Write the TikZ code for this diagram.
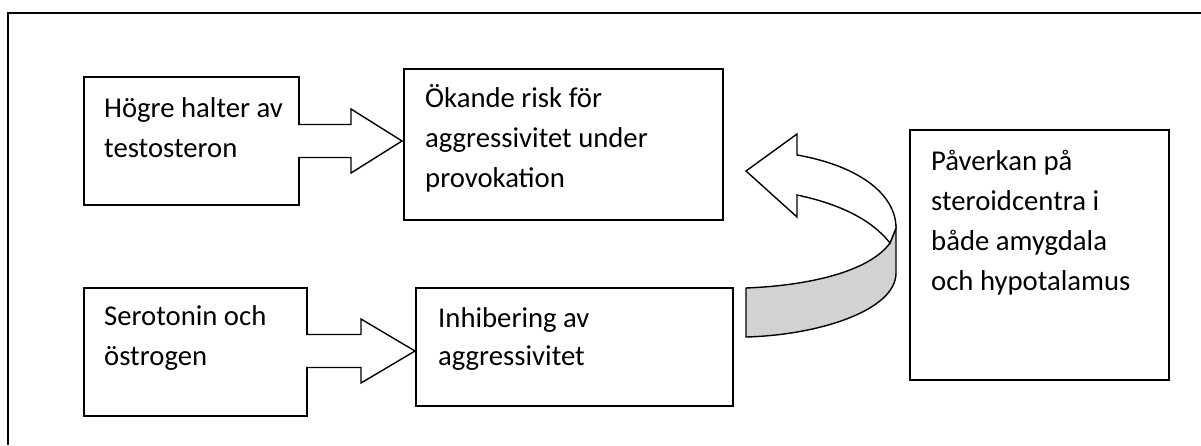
\documentclass[tikz,border=0pt]{standalone}
\usepackage{fontspec}
\setmainfont{Carlito}
\definecolor{band}{RGB}{210,210,210}
\newcommand\blockarr[4]{%
  \fill[white] (#1-3,#4-16.5) -- (#2,#4-16.5) -- (#2,#4-32) -- (#3,#4) -- (#2,#4+32) -- (#2,#4+16.5) -- (#1-3,#4+16.5) -- cycle;
  \draw[arr] (#1,#4-16.5) -- (#2,#4-16.5) -- (#2,#4-32) -- (#3,#4) -- (#2,#4+32) -- (#2,#4+16.5) -- (#1,#4+16.5);}
\begin{document}
\begin{tikzpicture}[x=1pt,y=-1pt,line join=miter,
  boxst/.style={draw,line width=1.6pt,fill=white,inner sep=0pt,anchor=north west},
  txt/.style={anchor=base west,inner sep=0pt,font=\fontsize{28.7}{40}\selectfont},
  arr/.style={line width=1.4pt}]
\useasboundingbox (0,0) rectangle (1201,445);
\fill[white] (0,0) rectangle (1201,445);
\draw[line width=1.6pt] (1201,13) -- (8,13) -- (8,445);
% boxes
\node[boxst,minimum width=215pt,minimum height=128pt] (A) at (83,76) {};
\node[boxst,minimum width=319pt,minimum height=151pt] (B) at (403,68) {};
\node[boxst,minimum width=223pt,minimum height=128pt] (C) at (83,287) {};
\node[boxst,minimum width=317pt,minimum height=118pt] (D) at (415,287) {};
\node[boxst,minimum width=259pt,minimum height=250pt] (E) at (909,129) {};
% texts
\node[txt] (a1) at (104,117) {Högre halter av};
\node[txt] (a2) at (104,157) {testosteron};
\node[txt] (b1) at (425,107) {Ökande risk för};
\node[txt] (b2) at (425,147) {aggressivitet under};
\node[txt] (b3) at (425,187) {provokation};
\node[txt] (c1) at (104,325) {Serotonin och};
\node[txt] (c2) at (104,365) {östrogen};
\node[txt] (d1) at (438,327) {Inhibering av};
\node[txt] (d2) at (438,365) {aggressivitet};
\node[txt] (e1) at (931,170) {Påverkan på};
\node[txt] (e2) at (931,210) {steroidcentra i};
\node[txt] (e3) at (931,250) {både amygdala};
\node[txt] (e4) at (931,290) {och hypotalamus};
% block arrows
\blockarr{298}{351}{402}{141}
\blockarr{306}{361}{415}{351}
% curved arrow: underside band
\filldraw[fill=band,arr] (746,288) .. controls (820,285) and (872,268) .. (890,243)
  -- (896,228) -- (896,273) .. controls (896,310) and (820,335) .. (746,337) -- cycle;
% curved arrow: front face with head
\filldraw[fill=white,arr] (797,155) .. controls (860,166) and (896,195) .. (896,228)
  -- (890,243) .. controls (872,220) and (840,204) .. (797,195)
  -- (797,217) -- (746,171) -- (797,134) -- cycle;
\end{tikzpicture}
\end{document}
